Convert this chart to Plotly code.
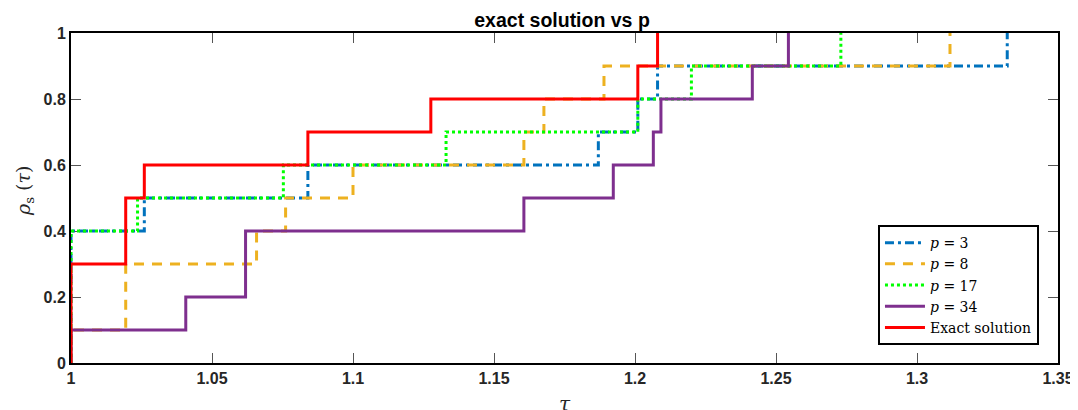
import plotly.graph_objects as go

# Data (tau values where each profile steps up, and the cumulative fractions)
tau_p3 = [1.0, 1.0, 1.026, 1.084, 1.187, 1.201, 1.208, 1.332]
rho_p3 = [0.0, 0.4, 0.5, 0.6, 0.7, 0.8, 0.9, 1.0]

tau_p8 = [1.0, 1.0, 1.0194, 1.0658, 1.0761, 1.1, 1.1606, 1.1677, 1.189, 1.3117]
rho_p8 = [0.0, 0.1, 0.3, 0.4, 0.5, 0.6, 0.7, 0.8, 0.9, 1.0]

tau_p17 = [1.0, 1.0, 1.0236, 1.0753, 1.133, 1.201, 1.220, 1.273]
rho_p17 = [0.0, 0.4, 0.5, 0.6, 0.7, 0.8, 0.9, 1.0]

tau_p34 = [1.0, 1.0, 1.0407, 1.0619, 1.1606, 1.1923, 1.2065, 1.2092, 1.2416, 1.2544]
rho_p34 = [0.0, 0.1, 0.2, 0.4, 0.5, 0.6, 0.7, 0.8, 0.9, 1.0]

tau_exact = [1.0, 1.0, 1.0194, 1.026, 1.084, 1.1276, 1.201, 1.208]
rho_exact = [0.0, 0.3, 0.5, 0.6, 0.7, 0.8, 0.9, 1.0]

x_ticks = [1, 1.05, 1.1, 1.15, 1.2, 1.25, 1.3, 1.35]
x_tick_labels = ["1", "1.05", "1.1", "1.15", "1.2", "1.25", "1.3", "1.35"]
y_ticks = [0, 0.2, 0.4, 0.6, 0.8, 1]
y_tick_labels = ["0", "0.2", "0.4", "0.6", "0.8", "1"]

series = [
    (tau_p3, rho_p3, "<i>p</i> = 3", "#0072BD", "9px,4px,3px,4px"),
    (tau_p8, rho_p8, "<i>p</i> = 8", "#EDB120", "10px,8px"),
    (tau_p17, rho_p17, "<i>p</i> = 17", "#00FF00", "3px,3px"),
    (tau_p34, rho_p34, "<i>p</i> = 34", "#7E2F8E", "solid"),
    (tau_exact, rho_exact, "Exact solution", "#FF0000", "solid"),
]

fig = go.Figure()
for xs, ys, name, color, dash in series:
    fig.add_trace(go.Scatter(
        x=xs, y=ys, name=name, mode="lines",
        line=dict(color=color, width=3, dash=dash, shape="hv"),
    ))

sans = "Liberation Sans, Arial, sans-serif"
serif = "DejaVu Serif, Liberation Serif, serif"
tick_font = dict(family=sans, size=16, color="#262626", weight="bold")

# the page body adds an 8px offset, so the figure is sized to fit the window
fig.update_layout(
    width=1070, height=402,
    margin=dict(l=63, r=20, t=25, b=47, autoexpand=False),
    paper_bgcolor="white", plot_bgcolor="white",
    title=dict(text="<b>exact solution vs p</b>", x=0.5178, xanchor="center",
               y=0.970, yanchor="middle",
               font=dict(family=sans, size=19.5, color="black")),
    legend=dict(
        x=0.8176, y=0.418, xanchor="left", yanchor="top",
        bgcolor="white", bordercolor="black", borderwidth=2,
        font=dict(family=serif, size=14, color="black"),
        tracegroupgap=0, itemwidth=40,
    ),
    showlegend=True,
)

fig.update_xaxes(
    range=[1, 1.35], tickvals=x_ticks, ticktext=x_tick_labels,
    ticks="inside", ticklen=10, tickwidth=1, tickcolor="#555555",
    showline=True, linecolor="black", linewidth=2, mirror="allticks",
    showgrid=False, zeroline=False, tickfont=tick_font, layer="below traces",
    automargin=False,
)
fig.update_yaxes(
    range=[0, 1], tickvals=y_ticks, ticktext=y_tick_labels,
    ticks="inside", ticklen=10, tickwidth=1, tickcolor="#555555",
    showline=True, linecolor="black", linewidth=2, mirror="allticks",
    showgrid=False, zeroline=False, tickfont=tick_font, layer="below traces",
    automargin=False,
)

# axis titles
fig.add_annotation(
    text="<i>τ</i>", xref="paper", yref="paper", x=0.5, y=-0.125,
    xanchor="center", yanchor="middle", showarrow=False,
    font=dict(family=serif, size=20, color="#262626"),
)
fig.add_annotation(
    text="<i>ρ</i><sub>s</sub> (<i>τ</i>)", xref="paper", yref="paper",
    x=-0.047, y=0.52, xanchor="center", yanchor="middle", showarrow=False,
    textangle=-90, font=dict(family=serif, size=19, color="#262626"),
)

fig.write_html("out.html")
